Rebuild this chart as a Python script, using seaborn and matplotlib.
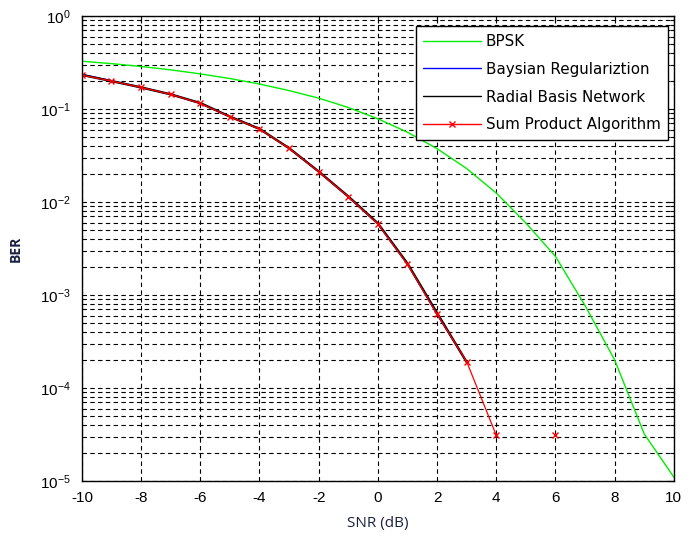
import numpy as np
import pandas as pd
import matplotlib
matplotlib.use('Agg')
import matplotlib.pyplot as plt
import seaborn as sns
from matplotlib.lines import Line2D
from matplotlib.ticker import LogLocator, FixedLocator, NullFormatter

# SNR points (dB)
snr = [-10, -9, -8, -7, -6, -5, -4, -3, -2, -1, 0, 1, 2, 3, 4, 5, 6, 7, 8, 9, 10]

# BER (NaN = zero errors, not drawn on log axis)
ber_bpsk = [0.327, 0.308, 0.287, 0.264, 0.239, 0.213, 0.186, 0.158, 0.131, 0.104,
            0.0786, 0.0563, 0.0375, 0.0229, 0.0125, 0.00595, 0.0026, 7.7e-4, 2.0e-4, 3.2e-5, 1.1e-5]
ber_bayes = [0.236, 0.201, 0.171, 0.144, 0.115, 0.0830, 0.0612, 0.0378, 0.0212, 0.0114,
             0.0058, 0.00215, 6.2e-4, 1.9e-4, np.nan, np.nan, np.nan, np.nan, np.nan, np.nan, np.nan]
ber_rbn = [0.233, 0.200, 0.171, 0.144, 0.116, 0.0830, 0.0612, 0.0380, 0.0213, 0.0115,
           0.0059, 0.00218, 6.4e-4, 1.9e-4, np.nan, np.nan, np.nan, np.nan, np.nan, np.nan, np.nan]
ber_spa = [0.232, 0.200, 0.171, 0.144, 0.115, 0.0826, 0.061, 0.0378, 0.0212, 0.0114,
           0.0058, 0.00214, 6.2e-4, 1.92e-4, 3.1e-5, np.nan, 3.1e-5, np.nan, np.nan, np.nan, np.nan]

labels = ['BPSK', 'Baysian Regulariztion', 'Radial Basis Network', 'Sum Product Algorithm']


def to_frame(y):
    df = pd.DataFrame({'snr': snr, 'ber': y})
    df['seg'] = df['ber'].isna().cumsum()
    return df.dropna()


sns.set_style('white')
plt.rcParams['font.family'] = ['Liberation Sans', 'DejaVu Sans']
plt.rcParams['axes.unicode_minus'] = False

fig = plt.figure(figsize=(6.94, 5.36), dpi=100)
ax = fig.add_axes([0.118, 0.1026, 0.853, 0.8674])
ax.set_yscale('log')

sns.lineplot(data=to_frame(ber_bpsk), x='snr', y='ber', units='seg', estimator=None,
             color='#00ee00', lw=1.0, ax=ax)
sns.lineplot(data=to_frame(ber_bayes), x='snr', y='ber', units='seg', estimator=None,
             color='#0000ff', lw=1.0, ax=ax)
sns.lineplot(data=to_frame(ber_rbn), x='snr', y='ber', units='seg', estimator=None,
             color='black', lw=1.7, ax=ax)
sns.lineplot(data=to_frame(ber_spa), x='snr', y='ber', units='seg', estimator=None,
             color='#ff0000', lw=0.9, marker='x', markersize=5, mew=1.0, mec='#ff0000', ax=ax)

ax.set_xlim(-10, 10)
ax.set_ylim(1e-5, 1)
ax.xaxis.set_major_locator(FixedLocator(np.arange(-10, 11, 2)))
ax.yaxis.set_major_locator(LogLocator(base=10, numticks=10))
ax.yaxis.set_minor_locator(LogLocator(base=10, subs=np.arange(2, 10), numticks=20))
ax.yaxis.set_minor_formatter(NullFormatter())

ax.grid(True, which='major', axis='x', color='black', ls=(0, (4, 3)), lw=0.8)
ax.grid(True, which='both', axis='y', color='black', ls=(0, (4, 3)), lw=0.8)

ax.tick_params(axis='both', which='both', direction='in', top=True, right=True,
               labelsize=11, colors='black', width=0.8)
ax.tick_params(axis='both', which='major', length=5)
ax.tick_params(axis='x', which='major', pad=7)
ax.tick_params(axis='y', which='major', pad=8)
ax.tick_params(axis='y', which='minor', length=3)
for s in ax.spines.values():
    s.set_color('black')
    s.set_linewidth(1.0)

ax.set_xlabel('SNR (dB)', fontsize=11, color='#1a2040', family=['Open Sans', 'DejaVu Sans'],
              labelpad=8)
ax.set_ylabel('BER', fontsize=10, color='#1a2040', weight='bold',
              family=['Open Sans', 'DejaVu Sans'], labelpad=12)

leg_handles = [
    Line2D([0], [0], color='#00ee00', lw=1.0),
    Line2D([0], [0], color='#0000ff', lw=1.0),
    Line2D([0], [0], color='black', lw=1.0),
    Line2D([0], [0], color='#ff0000', lw=1.0, marker='x', markersize=5),
]
leg = ax.legend(leg_handles, labels, loc='upper right', bbox_to_anchor=(0.99, 0.978),
                borderaxespad=0, prop={'family': 'DejaVu Sans', 'size': 10.9},
                frameon=True, fancybox=False, framealpha=1,
                edgecolor='black', borderpad=0.5, handlelength=3.8, labelspacing=0.85,
                handletextpad=0.3, labelcolor='black')
leg.get_frame().set_linewidth(1.0)

fig.savefig('out.png', dpi=100)
